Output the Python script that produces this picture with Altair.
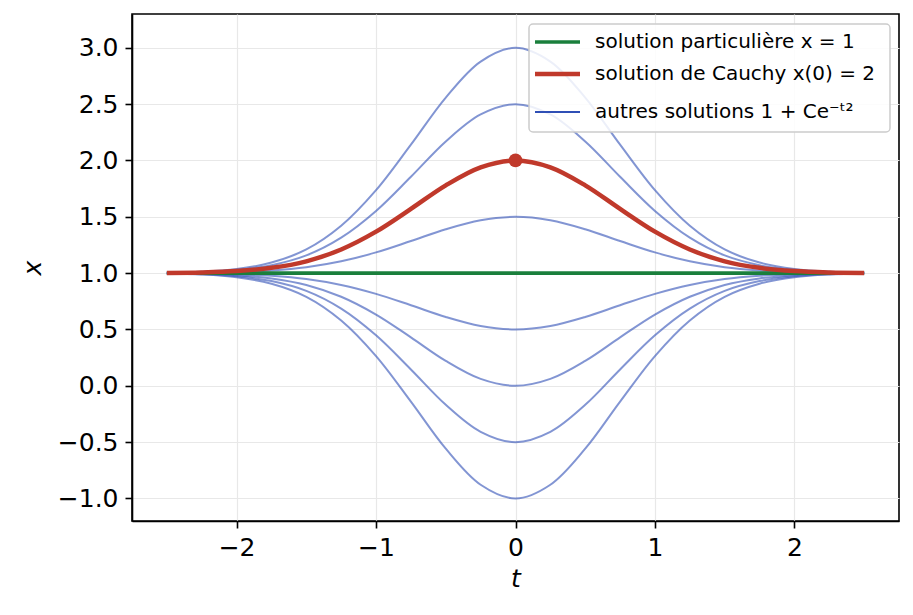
import altair as alt
import pandas as pd

# sample times and the bump profile e^{-t^2}
t_values = [-2.5, -2.25, -2.0, -1.75, -1.5, -1.25, -1.0, -0.75, -0.5, -0.25, 0.0,
            0.25, 0.5, 0.75, 1.0, 1.25, 1.5, 1.75, 2.0, 2.25, 2.5]
profile = [0.002, 0.006, 0.018, 0.047, 0.105, 0.210, 0.368, 0.570, 0.779, 0.939, 1.0,
           0.939, 0.779, 0.570, 0.368, 0.210, 0.105, 0.047, 0.018, 0.006, 0.002]
other_C = [2.0, 1.5, 0.5, -0.5, -1.0, -1.5, -2.0]
cauchy_C = 1.0
particular_x = 1.0
cauchy_point = (0.0, 2.0)

legend_labels = ["solution particulière x = 1",
                 "solution de Cauchy x(0) = 2",
                 "autres solutions 1 + Ce⁻ᵗ²"]
GREEN, RED, BLUE = "#1a7f3c", "#c0392b", "#2f4fb5"

rows = []
for c in other_C:
    for t, p in zip(t_values, profile):
        rows.append({"t": t, "x": 1 + c * p, "C": str(c)})
others = pd.DataFrame(rows)
cauchy = pd.DataFrame({"t": t_values, "x": [1 + cauchy_C * p for p in profile]})
flat = pd.DataFrame({"t": t_values, "x": [particular_x] * len(t_values)})
point = pd.DataFrame({"t": [cauchy_point[0]], "x": [cauchy_point[1]]})

x_scale = alt.Scale(domain=[-2.75, 2.75], nice=False, zero=False)
y_scale = alt.Scale(domain=[-1.2, 3.3], nice=False, zero=False)
x_enc = alt.X("t:Q", scale=x_scale,
              axis=alt.Axis(values=[-2, -1, 0, 1, 2], format="d", title="t",
                            titlePadding=6))
y_enc = alt.Y("x:Q", scale=y_scale,
              axis=alt.Axis(values=[-1.0, -0.5, 0.0, 0.5, 1.0, 1.5, 2.0, 2.5, 3.0],
                            format=".1f", title="x", titlePadding=12))

blue = alt.Chart(others).mark_line(color=BLUE, strokeWidth=2, opacity=0.6,
                                   interpolate="catmull-rom").encode(
    x=x_enc, y=y_enc, detail="C:N")
green = alt.Chart(flat).mark_line(color=GREEN, strokeWidth=3.6).encode(x=x_enc, y=y_enc)
red = alt.Chart(cauchy).mark_line(color=RED, strokeWidth=4.5,
                                  interpolate="catmull-rom").encode(x=x_enc, y=y_enc)
dot = alt.Chart(point).mark_point(filled=True, color=RED, size=190, opacity=1).encode(
    x=x_enc, y=y_enc)

one = pd.DataFrame({"a": [0]})
box = alt.Chart(one).mark_rect(fill="white", fillOpacity=0.85, stroke="#cccccc",
                               strokeWidth=1.5, cornerRadius=4).encode(
    x=alt.value(397), x2=alt.value(758), y=alt.value(10), y2=alt.value(118))
legend_layers = [box]
for label, color, width, ypos in zip(legend_labels, [GREEN, RED, BLUE],
                                     [3.6, 4.5, 2], [28, 60, 98]):
    legend_layers.append(alt.Chart(one).mark_rule(color=color, strokeWidth=width).encode(
        x=alt.value(403), x2=alt.value(448), y=alt.value(ypos)))
    legend_layers.append(alt.Chart(one).mark_text(
        text=label, align="left", baseline="middle", fontSize=20,
        font="DejaVu Sans", color="black").encode(x=alt.value(463), y=alt.value(ypos)))

chart = alt.layer(blue, green, red, dot, *legend_layers).properties(
    width=767, height=507,
    padding={"left": 12, "top": 6, "right": 5, "bottom": 5}
).configure_view(stroke="black", strokeWidth=1.6).configure_axis(
    labelFont="DejaVu Sans", titleFont="DejaVu Sans", labelFontSize=25,
    titleFontSize=25, titleFontWeight="normal", titleFontStyle="italic",
    labelColor="black", titleColor="black", domainColor="black", tickColor="black",
    domainWidth=1.6, tickWidth=1.6,
    gridColor="#e8e8e8", gridWidth=1.2, tickSize=7, labelPadding=7
).configure_axisY(titleAngle=270)

chart.save("out.html", embed_options={"renderer": "svg", "actions": False})
